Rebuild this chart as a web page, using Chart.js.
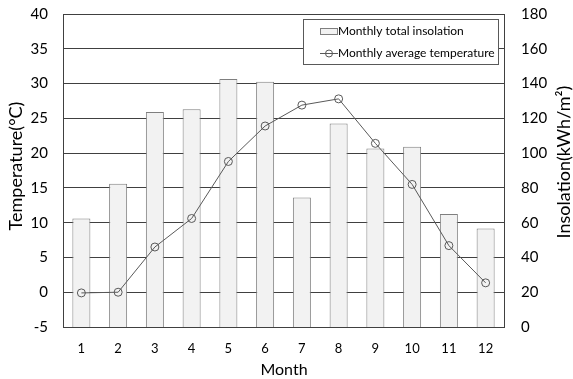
<!DOCTYPE html>
<html>
<head>
<meta charset="utf-8">
<script src="https://cdn.jsdelivr.net/npm/chart.js@4.4.1/dist/chart.umd.min.js"></script>
<style>
html,body{margin:0;padding:0;background:#fff;}
#wrap{width:573px;height:379px;}
</style>
</head>
<body>
<div id="wrap"><canvas id="c" width="573" height="379"></canvas></div>
<script>
const months = ['1','2','3','4','5','6','7','8','9','10','11','12'];
const insolation = [62.4, 82.4, 123.6, 125.2, 142.6, 141.0, 74.5, 117.0, 102.6, 103.6, 65.0, 56.7];
const temperature = [-0.1, 0.0, 6.5, 10.6, 18.8, 23.9, 26.9, 27.8, 21.4, 15.5, 6.7, 1.35];
const tempTicks = [-5, 0, 5, 10, 15, 20, 25, 30, 35, 40];
const insolTicks = [0, 20, 40, 60, 80, 100, 120, 140, 160, 180];
const labelInsol = 'Monthly total insolation';
const labelTemp = 'Monthly average temperature';
const titleLeft = 'Temperature(°C)';
const titleRight = 'Insolation(kWh/m²)';
const titleX = 'Month';

const FONT = 'Lato';
const AXIS = '#404040';

const extras = {
  id: 'extras',
  afterDraw(chart) {
    const ctx = chart.ctx;
    ctx.save();
    // legend box
    const bx = 303.5, by = 19.5, bw = 195, bh = 45;
    ctx.fillStyle = '#fff';
    ctx.fillRect(bx, by, bw, bh);
    ctx.strokeStyle = '#595959';
    ctx.lineWidth = 1;
    ctx.strokeRect(bx, by, bw, bh);
    // item 1
    ctx.fillStyle = '#f2f2f2';
    ctx.strokeStyle = '#7f7f7f';
    ctx.fillRect(320.5, 28.5, 17, 6);
    ctx.strokeRect(320.5, 28.5, 17, 6);
    ctx.fillStyle = '#000';
    ctx.font = '12px ' + FONT;
    ctx.textBaseline = 'middle';
    ctx.textAlign = 'left';
    ctx.fillText(chart.data.datasets[0].label, 338, 31.5);
    // item 2
    ctx.strokeStyle = '#595959';
    ctx.beginPath();
    ctx.moveTo(320, 53.5); ctx.lineTo(338, 53.5); ctx.stroke();
    ctx.beginPath();
    ctx.arc(329, 53.5, 3.5, 0, Math.PI * 2); ctx.stroke();
    ctx.fillText(chart.data.datasets[1].label, 338, 53.5);
    // axis titles
    ctx.textAlign = 'center';
    ctx.font = '18px ' + FONT;
    ctx.save();
    ctx.translate(16, 166);
    ctx.rotate(-Math.PI / 2);
    ctx.fillText(titleLeft, 0, 0);
    ctx.restore();
    ctx.save();
    ctx.translate(564, 162);
    ctx.rotate(-Math.PI / 2);
    ctx.fillText(titleRight, 0, 0);
    ctx.restore();
    ctx.font = '16px ' + FONT;
    ctx.fillText(titleX, 284, 370);
    ctx.restore();
  }
};

new Chart(document.getElementById('c'), {
  data: {
    labels: months,
    datasets: [
      {
        type: 'bar',
        label: labelInsol,
        data: insolation,
        yAxisID: 'y1',
        backgroundColor: '#f2f2f2',
        borderColor: '#7f7f7f',
        borderWidth: 1,
        borderSkipped: 'bottom',
        categoryPercentage: 1.0,
        barPercentage: 0.49,
        order: 1
      },
      {
        type: 'line',
        label: labelTemp,
        data: temperature,
        yAxisID: 'y',
        borderColor: '#595959',
        borderWidth: 1,
        pointRadius: 4,
        pointBorderWidth: 1,
        pointBackgroundColor: 'rgba(255,255,255,0)',
        pointBorderColor: '#595959',
        tension: 0,
        order: 0
      }
    ]
  },
  options: {
    responsive: false,
    animation: false,
    devicePixelRatio: 1,
    layout: { padding: { top: 14, left: 0, right: 0, bottom: 0 } },
    plugins: { legend: { display: false }, tooltip: { enabled: false } },
    scales: {
      x: {
        grid: { display: false },
        border: { display: true, color: AXIS },
        ticks: { font: { family: FONT, size: 13 }, color: '#000', padding: 6 },
        afterFit(s) { s.height = 52; s.paddingLeft = 0; s.paddingRight = 0; }
      },
      y: {
        position: 'left',
        min: tempTicks[0],
        max: tempTicks[tempTicks.length - 1],
        afterBuildTicks(s) { s.ticks = tempTicks.map(v => ({ value: v })); },
        ticks: { font: { family: FONT, size: 15 }, color: '#000', padding: 15 },
        grid: { drawTicks: false, color: AXIS, lineWidth: 1 },
        border: { display: true, color: AXIS },
        afterFit(s) { s.width = 63; s.paddingTop = 0; s.paddingBottom = 0; }
      },
      y1: {
        position: 'right',
        min: insolTicks[0],
        max: insolTicks[insolTicks.length - 1],
        afterBuildTicks(s) { s.ticks = insolTicks.map(v => ({ value: v })); },
        ticks: { font: { family: FONT, size: 15 }, color: '#000', padding: 17 },
        grid: { display: false, drawTicks: false },
        border: { display: true, color: AXIS },
        afterFit(s) { s.width = 69; s.paddingTop = 0; s.paddingBottom = 0; }
      }
    }
  },
  plugins: [extras]
});
</script>
</body>
</html>
